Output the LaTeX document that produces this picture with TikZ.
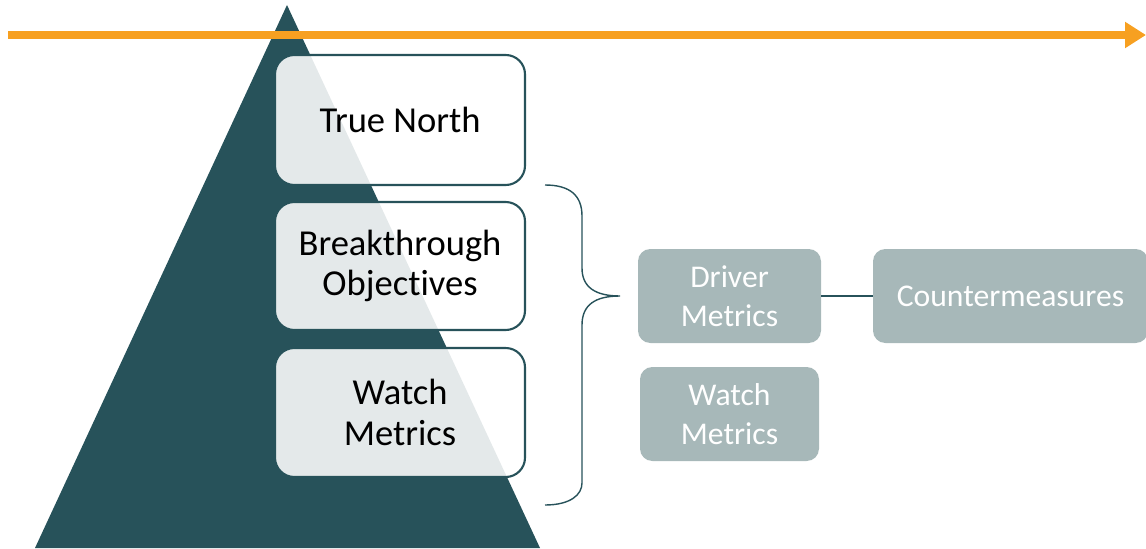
\documentclass[tikz,border=0pt]{standalone}
\usepackage{fontspec}
\setmainfont{Carlito}[Ligatures=CommonOff]
\usetikzlibrary{arrows.meta}

\definecolor{pyramid}{HTML}{27525A}
\definecolor{timeline}{HTML}{F7A021}
\definecolor{metric}{HTML}{A7B8B9}

\begin{document}
\begin{tikzpicture}[
		level/.style={draw=pyramid, line width=1.2pt, rectangle, rounded corners=11pt, fill=white, fill opacity=0.88, text opacity=1, minimum width=5cm, align=center, font=\fontsize{20.8}{23}\selectfont},
		metricbox/.style={rectangle, rounded corners=7pt, fill=metric, text=white, minimum height=1.88cm, align=center, font=\fontsize{18}{22}\selectfont}]
				\useasboundingbox (0,0) rectangle (22.92,10.96);
				% pyramid and time arrow
				\fill[pyramid] (0.70,0) -- (5.74,10.86) -- (10.80,0) -- cycle;
				\coordinate (T0) at (0.16,10.26);
				\coordinate (T1) at (22.92,10.26);
				\draw[timeline, line width=4.5pt, -{Triangle[length=0.42cm, width=0.5cm]}] (T0) -- (T1);
				% levels
				\node[level, minimum height=2.6cm] (TN)at(8.0, 8.56) {True North};
				\node[level, minimum height=2.56cm] (BO)at(8.0, 5.64) {Breakthrough\\Objectives};
				\node[level, minimum height=2.58cm] (WM)at(8.0, 2.71) {Watch\\Metrics};
				% brace
				\coordinate (BT) at (10.90,7.26);
				\coordinate (BM) at (12.40,5.04);
				\coordinate (BB) at (10.90,0.86);
				\draw[pyramid, line width=0.8pt] (BT) .. controls (11.40,7.26) and (11.64,7.05) .. (11.64,6.64) -- (11.64,5.60) .. controls (11.64,5.22) and (11.90,5.04) .. (BM) .. controls (11.90,5.04) and (11.64,4.86) .. (11.64,4.46) -- (11.64,1.30) .. controls (11.64,1.06) and (11.40,0.86) .. (BB);
				% metrics
				\node[metricbox, minimum width=3.66cm] (DM)at(14.59, 5.04) {Driver\\Metrics};
				\node[metricbox, minimum width=3.58cm] (WM2)at(14.59, 2.68) {Watch\\Metrics};
				\node[metricbox, minimum width=5.5cm] (CM)at(20.21, 5.04) {Countermeasures};
				\draw[pyramid, line width=0.6pt] (DM) -- (CM);
			\end{tikzpicture}
\end{document}
